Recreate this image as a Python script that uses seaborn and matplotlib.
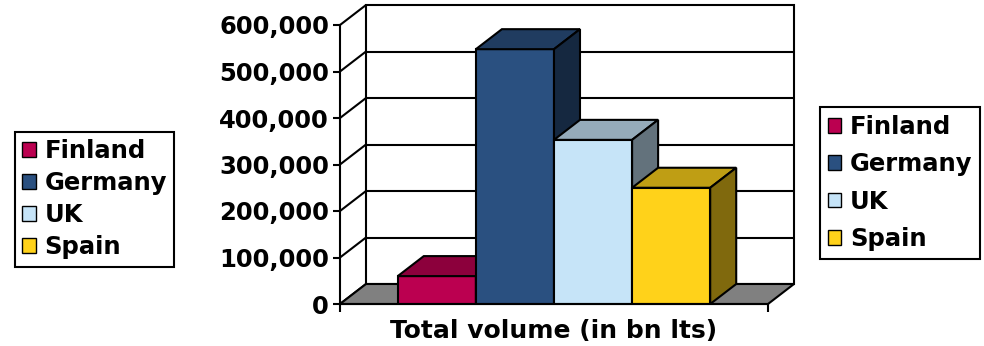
import pandas as pd
import seaborn as sns
import matplotlib.pyplot as plt
from matplotlib.patches import Polygon, Patch
from matplotlib.ticker import FuncFormatter

# data
category = ["Total volume (in bn lts)"]
countries = ["Finland", "Germany", "UK", "Spain"]
volumes = [60000, 548000, 353000, 250000]
colors = ["#BB0050", "#2A5080", "#C6E4F8", "#FFD21A"]
yticks = [0, 100000, 200000, 300000, 400000, 500000, 600000]

df = pd.DataFrame({"measure": category * len(countries), "country": countries, "volume": volumes})

sns.set_style("white")
plt.rcParams["font.family"] = ["DejaVu Sans"]
plt.rcParams["font.weight"] = "bold"
plt.rcParams["text.color"] = "black"
plt.rcParams["xtick.color"] = "black"
plt.rcParams["ytick.color"] = "black"

fig = plt.figure(figsize=(9.84, 3.46), dpi=100)
ax = fig.add_axes([340 / 984, 42 / 346, 428 / 984, 279 / 346])

sns.barplot(data=df, x="measure", y="volume", hue="country", hue_order=countries,
            palette=colors, width=0.73, saturation=1, edgecolor="black",
            linewidth=1.5, legend=False, ax=ax)

ax.set_xlim(-0.5, 0.5)
ax.set_ylim(0, yticks[-1])
ax.set_xlabel("")
ax.set_ylabel("")

# fake 3d depth (in data units)
dx = 26 / 428
dy = 20 / 46.5 * 100000
x0, x1 = -0.5, 0.5
top = yticks[-1]

bars = sorted(ax.patches, key=lambda p: p.get_x())

# back wall, grid, floor
ax.add_patch(Polygon([(x0 + dx, dy), (x1 + dx, dy), (x1 + dx, top + dy), (x0 + dx, top + dy)],
                     closed=True, fc="white", ec="black", lw=1.5, clip_on=False, zorder=0.5))
for v in yticks:
    ax.plot([x0, x0 + dx], [v, v + dy], color="black", lw=1.5, clip_on=False, zorder=0.6)
    if 0 < v < top:
        ax.plot([x0 + dx, x1 + dx], [v + dy, v + dy], color="black", lw=1.5, clip_on=False, zorder=0.6)
ax.add_patch(Polygon([(x0, 0), (x1, 0), (x1 + dx, dy), (x0 + dx, dy)],
                     closed=True, fc="#808080", ec="black", lw=1.5, clip_on=False, zorder=1))

# top and side faces
for i, b in enumerate(bars):
    xl, w, h = b.get_x(), b.get_width(), b.get_height()
    fc = b.get_facecolor()
    z = 3 + i
    b.set_zorder(z)
    top_c = tuple(c * 0.75 for c in fc[:3])
    side_c = tuple(c * 0.5 for c in fc[:3])
    ax.add_patch(Polygon([(xl, h), (xl + w, h), (xl + w + dx, h + dy), (xl + dx, h + dy)],
                         closed=True, fc=top_c, ec="black", lw=1.5, clip_on=False, zorder=z))
    ax.add_patch(Polygon([(xl + w, 0), (xl + w + dx, dy), (xl + w + dx, h + dy), (xl + w, h)],
                         closed=True, fc=side_c, ec="black", lw=1.5, clip_on=False, zorder=z))

sns.despine(ax=ax, top=True, right=True)
for s in ["left", "bottom"]:
    ax.spines[s].set_color("black")
    ax.spines[s].set_linewidth(1.5)
    ax.spines[s].set_zorder(10)

ax.set_yticks(yticks)
ax.yaxis.set_major_formatter(FuncFormatter(lambda v, p: f"{int(v):,}"))
ax.tick_params(axis="y", left=True, direction="out", length=5, width=1.5, color="black",
               labelsize=17.5, labelcolor="black", pad=3)
ax.set_xticks([-0.5, 0.5], minor=True)
ax.tick_params(axis="x", which="major", length=0, labelsize=18, labelcolor="black", pad=11)
ax.tick_params(axis="x", which="minor", bottom=True, direction="out", length=6, width=1.5,
               color="black")

handles = [Patch(facecolor=c, edgecolor="black", linewidth=1) for c in colors]
leg_kw = dict(loc="upper left", frameon=True, fancybox=False, edgecolor="black",
              framealpha=1, fontsize=17.5, handlelength=0.55, handleheight=0.55,
              handletextpad=0.37, borderaxespad=0, labelcolor="black")
leg1 = fig.legend(handles, countries, bbox_to_anchor=(15 / 984, 1 - 132 / 346),
                  labelspacing=0.33, borderpad=0.3, **leg_kw)
leg2 = fig.legend(handles, countries, bbox_to_anchor=(820 / 984, 1 - 107 / 346),
                  labelspacing=0.55, borderpad=0.32, **leg_kw)
for leg in (leg1, leg2):
    leg.get_frame().set_linewidth(1.5)

fig.savefig("out.png", dpi=100)
